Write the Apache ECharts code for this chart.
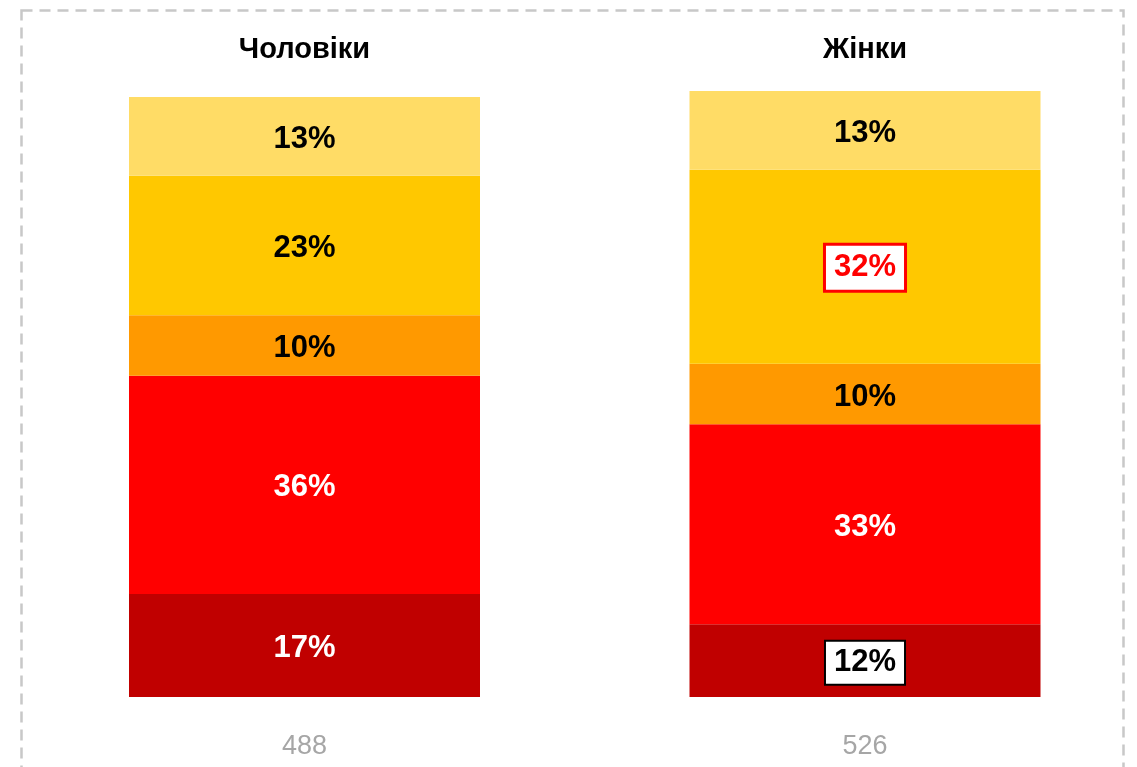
<!DOCTYPE html>
<html>
<head>
<meta charset="utf-8">
<script src="https://cdn.jsdelivr.net/npm/echarts@6/dist/echarts.min.js"></script>
<style>
html,body{margin:0;padding:0;background:#fff;}
#c{width:1137px;height:767px;}
</style>
</head>
<body>
<div id="c"></div>
<script>
const categories = ['Чоловіки', 'Жінки'];
const sampleSizes = ['488', '526'];
const seriesNames = ['s1', 's2', 's3', 's4', 's5'];
const valuesS1 = [17, 12];
const valuesS2 = [36, 33];
const valuesS3 = [10, 10];
const valuesS4 = [23, 32];
const valuesS5 = [13, 13];

const colors = ['#C00000', '#FF0000', '#FF9900', '#FFC800', '#FFDC66'];
const labelColors = ['#fff', '#fff', '#000', '#000', '#000'];
const allValues = [valuesS1, valuesS2, valuesS3, valuesS4, valuesS5];

const font = '"Liberation Sans", Arial, sans-serif';

function buildData(vals, idx) {
  return vals.map((v, i) => {
    const d = { value: v };
    if (idx === 3 && i === 1) {
      d.label = {
        color: '#FF0000', backgroundColor: '#fff', borderColor: '#FF0000',
        borderWidth: 3, padding: [7, 8, 6, 8], offset: [0, 1]
      };
    }
    if (idx === 0 && i === 1) {
      d.label = {
        color: '#000', backgroundColor: '#fff', borderColor: '#000',
        borderWidth: 2, padding: [6, 8, 5, 8], offset: [0, 2]
      };
    }
    return d;
  });
}

const chart = echarts.init(document.getElementById('c'));
chart.setOption({
  animation: false,
  backgroundColor: '#fff',
  grid: { left: 304.5, width: 560.5, top: 91, bottom: 70, containLabel: false, outerBoundsMode: 'none' },
  xAxis: [
    {
      type: 'category', data: categories, position: 'top', boundaryGap: false,
      axisLine: { show: false }, axisTick: { show: false }, splitLine: { show: false },
      axisLabel: { margin: 27, fontSize: 29, fontWeight: 'bold', color: '#000', fontFamily: font }
    },
    {
      type: 'category', data: sampleSizes, position: 'bottom', boundaryGap: false,
      axisLine: { show: false }, axisTick: { show: false }, splitLine: { show: false },
      axisLabel: { margin: 36, fontSize: 27, color: '#A6A6A6', fontFamily: font }
    }
  ],
  yAxis: { type: 'value', min: 0, max: 100, show: false, splitLine: { show: false } },
  series: allValues.map((vals, idx) => ({
    name: seriesNames[idx],
    type: 'bar',
    stack: 'total',
    xAxisIndex: 0,
    barWidth: 351,
    itemStyle: { color: colors[idx] },
    label: {
      show: true, position: 'inside', formatter: '{c}%', offset: [0, 3],
      fontSize: 31, fontWeight: 'bold', color: labelColors[idx], fontFamily: font
    },
    data: buildData(vals, idx)
  })),
  graphic: [{
    type: 'rect',
    shape: { x: 21.5, y: 10.5, width: 1102, height: 820 },
    style: { fill: 'none', stroke: '#C8C8C8', lineWidth: 2.5, lineDash: [11, 7] },
    silent: true
  }]
});
</script>
</body>
</html>
